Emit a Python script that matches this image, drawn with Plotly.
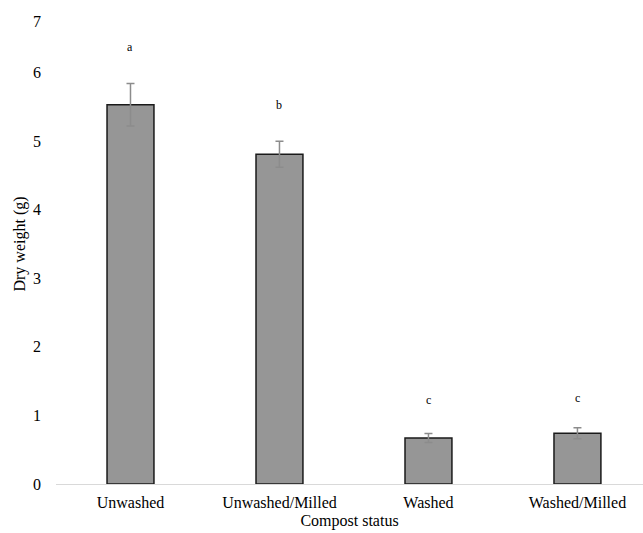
import plotly.graph_objects as go

categories = ["Unwashed", "Unwashed/Milled", "Washed", "Washed/Milled"]
dry_weight = [5.53, 4.81, 0.67, 0.74]
std_error = [0.31, 0.19, 0.065, 0.08]
letters = ["a", "b", "c", "c"]
letter_y = [6.37, 5.52, 1.22, 1.25]
y_tick_vals = [0, 1, 2, 3, 4, 5, 6, 7]
y_tick_text = ["0", "1", "2", "3", "4", "5", "6", ""]
top_tick_label = "7"

FONT = "Liberation Serif, Times New Roman, serif"

fig = go.Figure()
fig.add_trace(go.Bar(
    x=categories,
    y=dry_weight,
    width=0.315,
    marker=dict(color="#969696", line=dict(color="#1a1a1a", width=1.5)),
    error_y=dict(type="data", array=std_error, visible=True,
                 color="#8c8c8c", thickness=1.5, width=4),
))

for c, t, yy in zip(categories, letters, letter_y):
    fig.add_annotation(x=c, y=yy, text=t, showarrow=False,
                       font=dict(family=FONT, size=12, color="#000000"))

# top tick label sits slightly lower than its tick (as in the reference)
fig.add_annotation(xref="paper", x=0, y=y_tick_vals[-1], text=top_tick_label,
                   showarrow=False, xanchor="right", xshift=-13, yshift=-17,
                   font=dict(family=FONT, size=16, color="#000000"))

fig.update_layout(
    width=643, height=533,
    margin=dict(l=55.5, r=0, t=4, b=49),
    plot_bgcolor="white", paper_bgcolor="white",
    font=dict(family=FONT, size=16, color="#000"),
    showlegend=False,
    xaxis=dict(
        range=[-0.5, 3.44],
        showgrid=False, zeroline=False,
        showline=True, linecolor="#d9d9d9", linewidth=1,
        ticks="", ticklabelstandoff=4,
        title=dict(text="Compost status", standoff=4,
                   font=dict(family=FONT, size=16)),
        automargin=False,
    ),
    yaxis=dict(
        range=[0, 7],
        tickvals=y_tick_vals, ticktext=y_tick_text,
        showgrid=False, zeroline=False, showline=False,
        ticks="", ticklabelstandoff=14,
        title=dict(text="Dry weight (g)", standoff=3,
                   font=dict(family=FONT, size=16)),
        automargin=False,
    ),
)

fig.write_html("out.html", config={"displayModeBar": False})

# remove the default page margin so the figure sits at the top-left corner
with open("out.html", "r", encoding="utf-8") as f:
    html = f.read()
html = html.replace("<body>", '<body style="margin:0;padding:0;">', 1)
with open("out.html", "w", encoding="utf-8") as f:
    f.write(html)
